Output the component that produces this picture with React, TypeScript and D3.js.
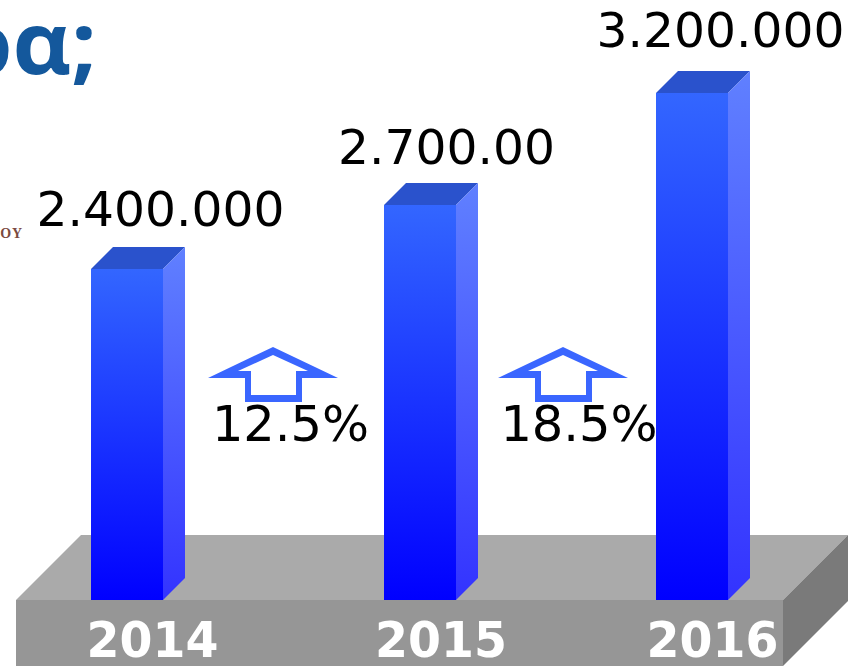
import React from "react";
import * as d3 from "d3";

const years = ["2014", "2015", "2016"];
const values = [2400000, 2700000, 3200000];
const valueLabels = ["2.400.000", "2.700.00", "3.200.000"];
const changes = ["12.5%", "18.5%"];
const titleFragment = "ρα;";
const logoFragment = "ΟΥ";

const W = 857, H = 666;
const barX = d3.scaleOrdinal<string, number>().domain(years).range([91, 384, 656]);
const barY = d3.scaleLinear().domain([0, 2400000, 2700000, 3200000]).range([600, 269, 205, 93]);
const barW = 72, depth = 22;
const font = "'DejaVu Sans', Verdana, sans-serif";
const labelX = [160.5, 446.5, 720.5];
const labelY = [226, 164, 47];
const yearX = [152.5, 441, 712.5];
const arrows = [273, 563];
const changeX = [290.5, 579];

function Arrow({ cx }: { cx: number }) {
  const d = d3.path();
  d.moveTo(cx - 65, 378); d.lineTo(cx, 347); d.lineTo(cx + 65, 378); d.lineTo(cx + 29, 378);
  d.lineTo(cx + 29, 402); d.lineTo(cx - 28, 402); d.lineTo(cx - 28, 378); d.closePath();
  const i = d3.path();
  i.moveTo(cx - 35, 371); i.lineTo(cx, 355); i.lineTo(cx + 35, 371); i.lineTo(cx + 23, 371);
  i.lineTo(cx + 23, 395); i.lineTo(cx - 22, 395); i.lineTo(cx - 22, 371); i.closePath();
  return <path d={d.toString() + i.toString()} fill="#3a66ff" fillRule="evenodd" />;
}

export default function App() {
  return (
    <svg width={W} height={H} viewBox={`0 0 ${W} ${H}`} style={{ position: "absolute", left: 0, top: 0, background: "#fff" }} fontFamily={font}>
      <defs>
        <linearGradient id="front" x1="0" y1="0" x2="0" y2="1">
          <stop offset="0" stopColor="#3366ff" /><stop offset="1" stopColor="#0000ff" />
        </linearGradient>
        <linearGradient id="side" x1="0" y1="0" x2="0" y2="1">
          <stop offset="0" stopColor="#6080ff" /><stop offset="1" stopColor="#3333ff" />
        </linearGradient>
      </defs>
      <text transform="translate(97,74) scale(1.08,1.03)" textAnchor="end" fontSize={84} fontWeight="bold" fontFamily="'Open Sans', sans-serif" fill="#14589c">{titleFragment}</text>
      <text x={23} y={238} textAnchor="end" fontSize={14} fontWeight="bold" letterSpacing={1} fontFamily="'Liberation Serif', serif" fill="#7a4a40">{logoFragment}</text>

      <polygon points="16,600 81,535 848,535 783,600" fill="#aaaaaa" />
      <rect x={16} y={600} width={767} height={66} fill="#969696" />
      <polygon points="783,600 848,535 848,601 783,666" fill="#7a7a7a" />

      {years.map((yr, i) => {
        const x = barX(yr), y = barY(values[i]), b = barY(0);
        return (
          <g key={yr}>
            <polygon points={`${x},${y} ${x + depth},${y - depth} ${x + barW + depth},${y - depth} ${x + barW},${y}`} fill="#2a52cc" />
            <polygon points={`${x + barW},${y} ${x + barW + depth},${y - depth} ${x + barW + depth},${b - depth} ${x + barW},${b}`} fill="url(#side)" />
            <rect x={x} y={y} width={barW} height={b - y} fill="url(#front)" />
            <text x={labelX[i]} y={labelY[i]} textAnchor="middle" fontSize={48.7} fill="#000">{valueLabels[i]}</text>
            <text x={yearX[i]} y={657} textAnchor="middle" fontSize={50} fontWeight="bold" fill="#fff" textLength={132} lengthAdjust="spacingAndGlyphs">{yr}</text>
          </g>
        );
      })}

      {changes.map((c, i) => (
        <g key={c}>
          <Arrow cx={arrows[i]} />
          <text x={changeX[i]} y={441} textAnchor="middle" fontSize={49.5} fill="#000">{c}</text>
        </g>
      ))}
    </svg>
  );
}
